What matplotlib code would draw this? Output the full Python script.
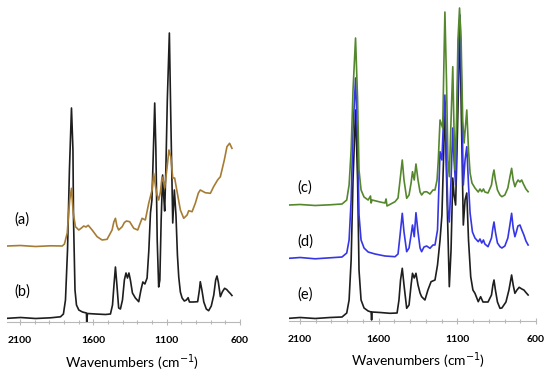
import matplotlib
matplotlib.use("Agg")
from matplotlib import pyplot as plt

# ---- left panel: (a) brown trace, (b) black trace ----
wn_b = [2186, 2098, 1995, 1893, 1825, 1805, 1791, 1777, 1764, 1750, 1740, 1736, 1726, 1716,
        1700, 1675, 1648, 1646, 1641, 1586, 1518, 1484, 1470, 1460, 1450, 1440, 1428, 1416,
        1402, 1389, 1378, 1368, 1358, 1348, 1334, 1314, 1291, 1276, 1263, 1249, 1234, 1222,
        1211, 1201, 1191, 1182, 1174, 1165, 1155, 1147, 1138, 1128, 1121, 1114, 1106, 1096,
        1082, 1072, 1059, 1048, 1037, 1027, 1018, 1007, 995, 980, 966, 954, 945, 918, 889,
        877, 871, 860, 847, 830, 814, 796, 779, 766, 757, 748, 734, 721, 705, 691, 678, 666, 655]
int_b = [3.7, 4.5, 3.5, 4.2, 5.2, 8, 22, 72, 152, 214, 172, 102, 32, 17,
         12, 10, 9, 0, 8.5, 8, 7.5, 8, 17, 37, 55, 37, 14, 13,
         22, 42, 49, 44, 49, 42, 29, 24, 20.3, 32, 40, 38, 44, 72,
         109, 122, 172, 219, 172, 82, 35, 42, 102, 147, 127, 111, 152, 222,
         289, 202, 99, 132, 107, 67, 45, 30, 24, 21, 22, 24.3, 20, 20, 20.3,
         32, 40.3, 32, 20, 13, 11.3, 16, 27, 42, 46, 40, 25.3, 30, 33.7, 32.5, 30.3, 28.5, 26.5]

wn_a = [2188, 2098, 1995, 1893, 1813, 1798, 1779, 1770, 1762, 1750, 1738, 1723, 1700, 1682,
        1666, 1651, 1636, 1609, 1575, 1541, 1507, 1473, 1461, 1450, 1440, 1428, 1404, 1389,
        1375, 1353, 1325, 1298, 1283, 1268, 1246, 1223, 1200, 1189, 1177, 1166, 1155, 1143,
        1132, 1121, 1114, 1098, 1085, 1072, 1059, 1046, 1029, 1007, 984, 961, 950, 927, 905,
        884, 871, 837, 802, 780, 753, 734, 707, 689, 671, 655]
int_a = [76, 76.5, 75.5, 76.2, 76, 78, 89, 107, 122, 133.7, 109, 95.3, 92, 94,
         96, 95, 96.7, 92, 85.3, 82, 82.7, 92, 100, 103.7, 96, 92, 95.3, 99.5,
         101, 100.3, 93.7, 92, 98, 103.7, 102, 118.7, 132, 148.7, 136, 127, 122, 130,
         145, 140, 134, 154, 172, 165, 144, 144, 130, 112, 103.7, 107, 111.3, 110.3, 118.7,
         129, 132, 129.3, 128.7, 135.3, 142, 145.3, 162, 175.3, 178.7, 173.7]

# ---- right panel: (c) green, (d) blue, (e) black ----
wn_e = [2169, 2099, 2004, 1909, 1833, 1803, 1788, 1775, 1763, 1747, 1734, 1725, 1712, 1693,
        1667, 1648, 1645, 1642, 1591, 1528, 1483, 1471, 1461, 1450, 1439, 1422, 1407, 1394,
        1385, 1374, 1363, 1350, 1337, 1327, 1306, 1287, 1267, 1242, 1226, 1210, 1198, 1188,
        1179, 1165, 1151, 1140, 1129, 1121, 1111, 1102, 1089, 1083, 1074, 1062, 1051, 1040,
        1029, 1015, 1001, 988, 967, 952, 937, 905, 883, 874, 867, 858, 845, 829, 817, 791,
        772, 755, 745, 734, 721, 707, 690, 677, 664, 650]
int_e = [2.7, 3.5, 2.5, 3.5, 4, 8, 21, 61, 141, 211, 141, 51, 21, 13,
         10, 9, 1, 9, 8.5, 7.7, 8, 21, 41, 52.7, 36, 12.7, 16, 36,
         47.7, 43, 47.7, 36, 28, 24.3, 21, 31, 39.3, 41, 56, 81, 106, 161,
         219, 120, 34.3, 71, 143, 126, 116, 171, 261, 288, 201, 96, 121, 128,
         81, 44.3, 31, 27.7, 19.3, 24.3, 19, 19, 26, 36, 41, 31, 19, 12.7, 13, 19,
         31, 46, 36, 27.7, 31, 33.7, 32, 31, 28.5, 26]

wn_d = [2169, 2099, 2004, 1909, 1833, 1803, 1788, 1775, 1763, 1747, 1734, 1725, 1712, 1693,
        1667, 1623, 1560, 1496, 1477, 1464, 1450, 1439, 1422, 1407, 1394, 1385, 1374, 1363,
        1350, 1337, 1327, 1312, 1295, 1274, 1255, 1242, 1226, 1210, 1198, 1188, 1179, 1169,
        1160, 1151, 1140, 1129, 1121, 1111, 1102, 1092, 1083, 1074, 1062, 1051, 1040, 1029,
        1019, 1004, 988, 967, 956, 945, 934, 925, 905, 883, 874, 867, 858, 845, 829, 817,
        798, 779, 766, 755, 745, 734, 725, 715, 702, 690, 677, 664, 650]
int_d = [62.7, 63.5, 62.2, 63.2, 64, 68, 81, 121, 191, 243, 181, 106, 81, 73,
         69, 67, 65, 64.3, 67, 86, 107.7, 89, 69.3, 73, 86, 96, 84.3, 108.3,
         89, 73, 69.3, 74, 75, 72.7, 76, 76, 91, 169.3, 161, 201, 226, 161,
         111, 99, 141, 193, 161, 136, 201, 281, 306, 241, 136, 161, 174.3, 136,
         108, 89, 83, 79.3, 82, 78, 81, 77, 74.3, 83, 93, 99, 89, 78, 74.3, 73,
         75, 83, 96, 107.7, 93, 84.3, 89, 95, 96, 91, 86, 80, 76]

wn_c = [2169, 2099, 2004, 1909, 1833, 1803, 1788, 1775, 1763, 1747, 1734, 1725, 1712, 1693,
        1667, 1652, 1648, 1642, 1591, 1560, 1553, 1547, 1496, 1477, 1464, 1450, 1439, 1422,
        1407, 1394, 1385, 1374, 1363, 1350, 1337, 1327, 1312, 1295, 1274, 1255, 1242, 1229,
        1221, 1210, 1193, 1185, 1179, 1169, 1160, 1151, 1140, 1129, 1121, 1115, 1105, 1096,
        1086, 1076, 1066, 1057, 1040, 1029, 1019, 1007, 988, 967, 956, 945, 934, 925, 905,
        883, 874, 867, 858, 845, 829, 817, 798, 779, 766, 755, 745, 734, 725, 714, 702, 691,
        680, 664, 650]
int_c = [116, 116.5, 115.5, 116.2, 117, 121, 136, 171, 231, 283, 221, 151, 131, 124,
         121, 125, 118, 121, 119, 118, 122, 115, 119.3, 123, 141, 161, 141, 122.7,
         126, 138, 149.3, 141, 157, 141, 129, 126, 129, 129.3, 127, 131, 131, 141,
         161, 201, 193, 261, 309, 241, 161, 144.3, 201, 254.3, 191, 151, 201, 281,
         313, 281, 201, 178, 211, 171, 148, 138, 133, 129, 132, 129.3, 132, 129, 128,
         136, 146, 151, 141, 131, 126, 124.3, 126, 133, 144, 152.7, 141, 134.3, 138, 141, 139, 141,
         137, 132, 129.3]

labels_left = ["(a)", "(b)"]
labels_right = ["(c)", "(d)", "(e)"]

fig = plt.figure(figsize=(5.5, 3.76), dpi=100)
ax1 = fig.add_axes([7/550, 54/376, 233/550, 322/376])
ax2 = fig.add_axes([289/550, 55/376, 247/550, 321/376])

ax1.plot(wn_b, int_b, color="#1e1e1e", lw=1.2)
ax1.plot(wn_a, int_a, color="#a67c34", lw=1.2)
ax1.set_xlim(2190, 600)
ax1.set_ylim(0, 322)
ax1.text(2086, 102, labels_left[0], fontsize=10.5, family="Lato", ha="center", va="center")
ax1.text(2086, 30, labels_left[1], fontsize=10.5, family="Lato", ha="center", va="center")

ax2.plot(wn_e, int_e, color="#1e1e1e", lw=1.2)
ax2.plot(wn_d, int_d, color="#3636e6", lw=1.2)
ax2.plot(wn_c, int_c, color="#55872d", lw=1.2)
ax2.set_xlim(2170, 600)
ax2.set_ylim(0, 321)
ax2.text(2067, 133, labels_right[0], fontsize=10.5, family="Lato", ha="center", va="center")
ax2.text(2067, 79, labels_right[1], fontsize=10.5, family="Lato", ha="center", va="center")
ax2.text(2067, 26, labels_right[2], fontsize=10.5, family="Lato", ha="center", va="center")

for ax, lx in [(ax1, 0.535), (ax2, 0.522)]:
    for s in ["top", "left", "right"]:
        ax.spines[s].set_visible(False)
    ax.spines["bottom"].set_color("#b8b8b8")
    ax.spines["bottom"].set_linewidth(0.8)
    ax.set_yticks([])
    ax.set_xticks([2100, 1600, 1100, 600])
    ax.set_xticks(range(600, 2200, 100), minor=True)
    ax.tick_params(axis="x", which="both", direction="inout", color="#b8b8b8", width=0.8)
    ax.tick_params(axis="x", which="major", length=4, pad=8)
    ax.tick_params(axis="x", which="minor", length=3)
    for t in ax.get_xticklabels():
        t.set_fontweight("bold")
        t.set_fontsize(7.5)
        t.set_family("Lato")
    ax.set_xlabel(r"Wavenumbers (cm$^{-1}$)", fontsize=10, family="Lato")
    ax.xaxis.set_label_coords(lx, -0.093)
    ax.patch.set_alpha(0)

fig.savefig("out.png", dpi=100)
